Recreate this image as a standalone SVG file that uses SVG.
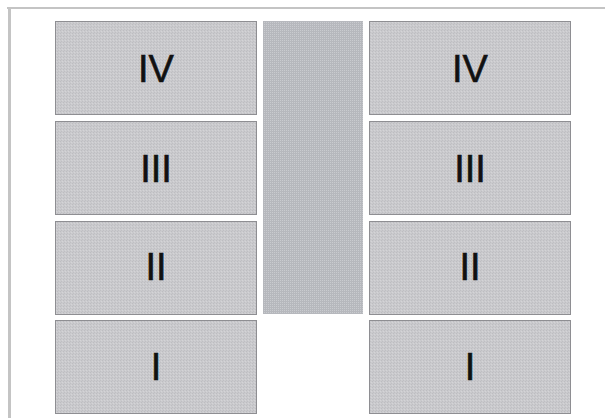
<svg xmlns="http://www.w3.org/2000/svg" width="605" height="418" viewBox="0 0 605 418">
  <defs>
    <pattern id="tex" width="3" height="3" patternUnits="userSpaceOnUse">
      <rect width="3" height="3" fill="#cacacd"/>
      <rect x="0" y="0" width="1" height="1" fill="#bdbdc1"/>
      <rect x="2" y="1" width="1" height="1" fill="#d4d4d7"/>
      <rect x="1" y="2" width="1" height="1" fill="#bfbfc3"/>
    </pattern>
    <pattern id="tex2" width="2" height="2" patternUnits="userSpaceOnUse">
      <rect width="2" height="2" fill="#b6b8bd"/>
      <rect x="0" y="0" width="1" height="1" fill="#c9cbcf"/>
    </pattern>
  </defs>
  <style>
    .box { fill: url(#tex); stroke: #8e8e92; stroke-width: 1; }
    .lbl { font-family: "Liberation Sans", Arial, sans-serif; font-size: 38px; fill: #111; stroke: #111; stroke-width: 0.6; text-anchor: middle; }
  </style>
  <rect width="605" height="418" fill="#ffffff"/>
  <g id="frame">
    <rect x="7" y="7" width="598" height="2" fill="#c4c4c4"/>
    <rect x="8" y="7" width="3" height="411" fill="#c4c4c4"/>
  </g>
  <g id="left-IV"><rect class="box" x="55.5" y="21.5" width="201" height="93"/><text class="lbl" x="156" y="82">IV</text></g>
  <g id="left-III"><rect class="box" x="55.5" y="121.5" width="201" height="93"/><text class="lbl" x="156" y="182">III</text></g>
  <g id="left-II"><rect class="box" x="55.5" y="221.5" width="201" height="93"/><text class="lbl" x="156" y="280">II</text></g>
  <g id="left-I"><rect class="box" x="55.5" y="320.5" width="201" height="93"/><text class="lbl" x="156" y="380">I</text></g>
  <g id="middle"><rect x="263" y="21" width="100" height="293" fill="url(#tex2)"/></g>
  <g id="right-IV"><rect class="box" x="369.5" y="21.5" width="201" height="93"/><text class="lbl" x="470" y="82">IV</text></g>
  <g id="right-III"><rect class="box" x="369.5" y="121.5" width="201" height="93"/><text class="lbl" x="470" y="182">III</text></g>
  <g id="right-II"><rect class="box" x="369.5" y="221.5" width="201" height="93"/><text class="lbl" x="470" y="280">II</text></g>
  <g id="right-I"><rect class="box" x="369.5" y="320.5" width="201" height="93"/><text class="lbl" x="470" y="380">I</text></g>
  <g id="connectors"></g>
</svg>
